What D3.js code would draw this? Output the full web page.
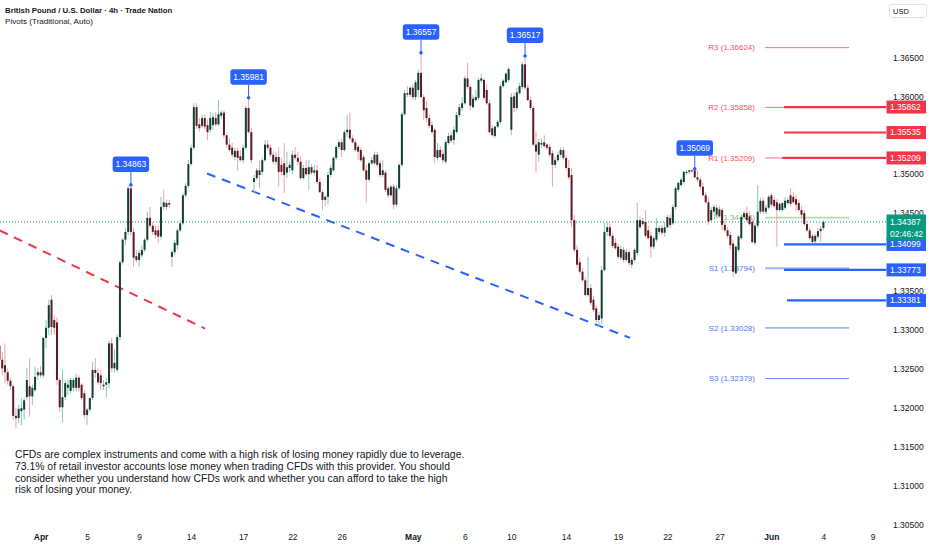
<!DOCTYPE html>
<html><head><meta charset="utf-8">
<script src="https://cdn.jsdelivr.net/npm/d3@7"></script>
<style>html,body{margin:0;padding:0;background:#fff;}svg{display:block;}</style>
</head><body><svg id="c" width="932" height="550"></svg>
<script>
// [open, high, low, close] per 4h candle, oldest first
const ohlc = [
[1.3280,1.3283,1.3259,1.3262],[1.3262,1.3272,1.3242,1.3251],[1.3255,1.3283,1.3232,1.3246],[1.3246,1.3251,1.3230,1.3235],
[1.3235,1.3239,1.3223,1.3228],[1.3228,1.3231,1.3185,1.3190],[1.3190,1.3200,1.3174,1.3187],[1.3187,1.3204,1.3181,1.3199],
[1.3196,1.3213,1.3178,1.3200],[1.3198,1.3214,1.3185,1.3210],[1.3214,1.3251,1.3210,1.3236],[1.3228,1.3264,1.3189,1.3215],
[1.3215,1.3230,1.3204,1.3226],[1.3223,1.3253,1.3221,1.3240],[1.3242,1.3251,1.3236,1.3246],[1.3246,1.3254,1.3239,1.3242],
[1.3242,1.3291,1.3239,1.3290],[1.3290,1.3313,1.3277,1.3303],[1.3303,1.3339,1.3294,1.3332],[1.3339,1.3345,1.3294,1.3304],
[1.3313,1.3319,1.3294,1.3303],[1.3310,1.3316,1.3230,1.3236],[1.3236,1.3239,1.3195,1.3201],[1.3201,1.3249,1.3182,1.3214],
[1.3214,1.3236,1.3210,1.3232],[1.3226,1.3236,1.3217,1.3230],[1.3222,1.3239,1.3219,1.3236],[1.3226,1.3239,1.3221,1.3236],
[1.3226,1.3244,1.3221,1.3239],[1.3239,1.3242,1.3221,1.3226],[1.3230,1.3232,1.3210,1.3213],[1.3219,1.3223,1.3187,1.3191],
[1.3191,1.3200,1.3178,1.3198],[1.3198,1.3213,1.3195,1.3213],[1.3213,1.3259,1.3210,1.3249],[1.3249,1.3264,1.3239,1.3245],
[1.3245,1.3251,1.3230,1.3233],[1.3242,1.3249,1.3223,1.3232],[1.3228,1.3236,1.3223,1.3230],[1.3230,1.3239,1.3213,1.3233],
[1.3232,1.3287,1.3226,1.3283],[1.3283,1.3290,1.3246,1.3251],[1.3251,1.3275,1.3246,1.3258],[1.3249,1.3294,1.3246,1.3291],
[1.3291,1.3390,1.3287,1.3387],[1.3387,1.3418,1.3384,1.3416],[1.3416,1.3431,1.3409,1.3426],[1.3426,1.3485,1.3422,1.3482],
[1.3482,1.34863,1.3422,1.3426],[1.3426,1.3431,1.3381,1.3393],[1.3395,1.3403,1.3387,1.3390],[1.3390,1.3403,1.3381,1.3399],
[1.3396,1.3409,1.3393,1.3403],[1.3403,1.3418,1.3400,1.3416],[1.3416,1.3452,1.3413,1.3444],[1.3444,1.3458,1.3431,1.3434],
[1.3434,1.3439,1.3422,1.3426],[1.3428,1.3434,1.3418,1.3422],[1.3428,1.3434,1.3412,1.3420],[1.3420,1.3471,1.3416,1.3458],
[1.3464,1.3480,1.3454,1.3458],[1.3458,1.3467,1.3454,1.3463],[1.3463,1.3467,1.3457,1.3461],[1.3394,1.3403,1.3381,1.3400],
[1.3400,1.3416,1.3396,1.3412],[1.3409,1.3431,1.3403,1.3428],[1.3428,1.3441,1.3426,1.3437],[1.3437,1.3476,1.3435,1.3473],
[1.3473,1.3489,1.3471,1.3485],[1.3485,1.3518,1.3482,1.3513],[1.3513,1.3538,1.3511,1.3534],[1.3534,1.3591,1.3531,1.3586],
[1.3586,1.3591,1.3558,1.3562],[1.3564,1.3572,1.3555,1.3559],[1.3562,1.3576,1.3559,1.3572],[1.3572,1.3577,1.3557,1.3561],
[1.3563,1.3570,1.3544,1.3554],[1.3557,1.3580,1.3553,1.3572],[1.3563,1.3579,1.3557,1.3573],[1.3572,1.3580,1.3561,1.3564],
[1.3564,1.3595,1.3562,1.3577],[1.3575,1.3582,1.3571,1.3579],[1.3579,1.3582,1.3546,1.3550],[1.3550,1.3553,1.3534,1.3538],
[1.3538,1.3546,1.3529,1.3531],[1.3534,1.3540,1.3522,1.3525],[1.3522,1.3534,1.3518,1.3530],[1.3530,1.3534,1.3505,1.3521],
[1.3523,1.3531,1.3516,1.3518],[1.3518,1.3538,1.3514,1.3534],[1.3534,1.3588,1.3531,1.3585],[1.3585,1.35981,1.3552,1.3554],
[1.3554,1.3559,1.3514,1.3518],[1.3490,1.3499,1.3476,1.3495],[1.3495,1.3508,1.3493,1.3505],[1.3505,1.3518,1.3482,1.3499],
[1.3503,1.3521,1.3499,1.3518],[1.3518,1.3544,1.3516,1.3538],[1.3538,1.3544,1.3531,1.3534],[1.3534,1.3538,1.3522,1.3525],
[1.3525,1.3529,1.3513,1.3516],[1.3516,1.3529,1.3512,1.3522],[1.3522,1.3534,1.3484,1.3503],[1.3512,1.3521,1.3499,1.3503],
[1.3514,1.3540,1.3476,1.3499],[1.3502,1.3529,1.3495,1.3509],[1.3508,1.3516,1.3503,1.3512],[1.3505,1.3531,1.3500,1.3525],
[1.3525,1.3535,1.3518,1.3521],[1.3521,1.3529,1.3512,1.3516],[1.3516,1.3523,1.3493,1.3495],[1.3495,1.3512,1.3493,1.3508],
[1.3508,1.3518,1.3498,1.3500],[1.3500,1.3518,1.3480,1.3509],[1.3509,1.3513,1.3499,1.3502],[1.3502,1.3512,1.3498,1.3505],
[1.3505,1.3512,1.3487,1.3490],[1.3490,1.3495,1.3476,1.3477],[1.3477,1.3480,1.3454,1.3467],[1.3467,1.3473,1.3459,1.3471],
[1.3471,1.3503,1.3461,1.3499],[1.3499,1.3512,1.3496,1.3508],[1.3505,1.3523,1.3503,1.3521],[1.3521,1.3538,1.3518,1.3535],
[1.3535,1.3544,1.3532,1.3541],[1.3541,1.3546,1.3522,1.3531],[1.3531,1.3557,1.3529,1.3554],[1.3554,1.3576,1.3548,1.3557],
[1.3557,1.3579,1.3544,1.3546],[1.3546,1.3550,1.3540,1.3541],[1.3541,1.3544,1.3529,1.3531],[1.3535,1.3538,1.3518,1.3529],
[1.3531,1.3534,1.3516,1.3518],[1.3522,1.3525,1.3503,1.3505],[1.3505,1.3512,1.3464,1.3493],[1.3493,1.3516,1.3490,1.3514],
[1.3514,1.3522,1.3512,1.3518],[1.3514,1.3529,1.3512,1.3525],[1.3525,1.3529,1.3509,1.3512],[1.3514,1.3518,1.3496,1.3499],
[1.3499,1.3518,1.3496,1.3505],[1.3502,1.3505,1.3477,1.3480],[1.3482,1.3485,1.3470,1.3473],[1.3473,1.3486,1.3471,1.3484],
[1.3484,1.3487,1.3455,1.3461],[1.3461,1.3486,1.3458,1.3482],[1.3482,1.3514,1.3480,1.3512],[1.3512,1.3580,1.3509,1.3577],
[1.3577,1.3608,1.3575,1.3604],[1.3604,1.3613,1.3599,1.3602],[1.3602,1.3613,1.3599,1.3611],[1.3611,1.3616,1.3595,1.3599],
[1.3599,1.3621,1.3595,1.3618],[1.3608,1.3634,1.3599,1.3630],[1.3630,1.36557,1.3598,1.3599],[1.3599,1.3602,1.3570,1.3582],
[1.3585,1.3594,1.3567,1.3572],[1.3572,1.3577,1.3559,1.3562],[1.3563,1.3568,1.3552,1.3554],[1.3557,1.3559,1.3514,1.3522],
[1.3521,1.3540,1.3518,1.3531],[1.3531,1.3536,1.3521,1.3522],[1.3526,1.3531,1.3514,1.3518],[1.3516,1.3544,1.3513,1.3541],
[1.3540,1.3553,1.3538,1.3549],[1.3550,1.3555,1.3540,1.3543],[1.3544,1.3562,1.3538,1.3557],[1.3554,1.3580,1.3552,1.3576],
[1.3576,1.3590,1.3573,1.3586],[1.3585,1.3599,1.3581,1.3591],[1.3591,1.3626,1.3589,1.3623],[1.3623,1.3643,1.3609,1.3612],
[1.3612,1.3615,1.3582,1.3588],[1.3586,1.3602,1.3584,1.3597],[1.3595,1.3608,1.3593,1.3599],[1.3598,1.3623,1.3595,1.3621],
[1.3620,1.3629,1.3617,1.3623],[1.3621,1.3623,1.3595,1.3598],[1.3608,1.3616,1.3589,1.3591],[1.3591,1.3595,1.3552,1.3554],
[1.3559,1.3563,1.3548,1.3550],[1.3549,1.3562,1.3546,1.3561],[1.3561,1.3570,1.3559,1.3567],[1.3567,1.3616,1.3564,1.3613],
[1.3613,1.3622,1.3611,1.3620],[1.3618,1.3631,1.3616,1.3629],[1.3621,1.3638,1.3618,1.3635],[1.3557,1.3604,1.3550,1.3599],
[1.3600,1.3605,1.3580,1.3585],[1.3585,1.3611,1.3582,1.3605],[1.3604,1.3617,1.3602,1.3613],[1.3612,1.3644,1.3609,1.3641],
[1.3641,1.36517,1.3608,1.3611],[1.3611,1.3615,1.3594,1.3595],[1.3595,1.3599,1.3582,1.3585],[1.3585,1.3588,1.3536,1.3538],
[1.3538,1.3555,1.3502,1.3529],[1.3525,1.3546,1.3516,1.3541],[1.3538,1.3546,1.3534,1.3540],[1.3541,1.3550,1.3534,1.3536],
[1.3538,1.3540,1.3531,1.3534],[1.3535,1.3539,1.3522,1.3525],[1.3527,1.3531,1.3484,1.3512],[1.3512,1.3522,1.3508,1.3518],
[1.3518,1.3529,1.3516,1.3525],[1.3525,1.3534,1.3522,1.3531],[1.3531,1.3535,1.3518,1.3521],[1.3521,1.3525,1.3505,1.3508],
[1.3508,1.3518,1.3493,1.3496],[1.3499,1.3508,1.3432,1.3441],[1.3441,1.3448,1.3400,1.3403],[1.3403,1.3409,1.3380,1.3384],
[1.3387,1.3393,1.3372,1.3375],[1.3375,1.3380,1.3362,1.3364],[1.3364,1.3368,1.3343,1.3345],[1.3345,1.3394,1.3343,1.3354],
[1.3354,1.3359,1.3332,1.3335],[1.3339,1.3344,1.3323,1.3326],[1.3328,1.3332,1.3310,1.3313],[1.3313,1.3323,1.3304,1.3319],
[1.3315,1.3382,1.3307,1.3377],[1.3377,1.3437,1.3375,1.3426],[1.3426,1.3439,1.3421,1.3432],[1.3432,1.3437,1.3418,1.3421],
[1.3421,1.3425,1.3405,1.3408],[1.3412,1.3418,1.3403,1.3405],[1.3407,1.3411,1.3391,1.3394],[1.3393,1.3408,1.3390,1.3404],
[1.3403,1.3407,1.3387,1.3390],[1.3390,1.3404,1.3387,1.3400],[1.3400,1.3403,1.3382,1.3386],[1.3384,1.3393,1.3380,1.3390],
[1.3390,1.3405,1.3387,1.3403],[1.3399,1.3463,1.3396,1.3441],[1.3441,1.3446,1.3430,1.3432],[1.3436,1.3444,1.3434,1.3440],
[1.3439,1.3454,1.3418,1.3421],[1.3428,1.3434,1.3416,1.3418],[1.3421,1.3426,1.3393,1.3407],[1.3407,1.3421,1.3404,1.3418],
[1.3416,1.3444,1.3413,1.3431],[1.3426,1.3434,1.3423,1.3431],[1.3431,1.3435,1.3422,1.3425],[1.3425,1.3439,1.3420,1.3432],
[1.3432,1.3448,1.3430,1.3445],[1.3444,1.3448,1.3431,1.3435],[1.3437,1.3461,1.3435,1.3458],[1.3458,1.3485,1.3455,1.3482],
[1.3480,1.3491,1.3477,1.3489],[1.3486,1.3495,1.3484,1.3493],[1.3490,1.3504,1.3487,1.3503],[1.3502,1.3505,1.3499,1.3503],
[1.3503,1.3506,1.3500,1.3505],[1.3505,1.3506,1.3502,1.3504],[1.3505,1.35069,1.3495,1.3496],[1.3496,1.3505,1.3490,1.3493],
[1.3493,1.3496,1.3480,1.3484],[1.3484,1.3489,1.3472,1.3473],[1.3473,1.3477,1.3463,1.3464],[1.3464,1.3471,1.3435,1.3439],
[1.3441,1.3458,1.3439,1.3454],[1.3452,1.3461,1.3448,1.3458],[1.3457,1.3461,1.3445,1.3448],[1.3446,1.3459,1.3444,1.3455],
[1.3454,1.3457,1.3428,1.3435],[1.3435,1.3441,1.3425,1.3428],[1.3428,1.3432,1.3418,1.3421],[1.3422,1.3426,1.3403,1.3409],
[1.3411,1.3416,1.3368,1.3375],[1.3373,1.3409,1.3371,1.3407],[1.3403,1.3422,1.3400,1.3420],[1.3418,1.3448,1.3416,1.3445],
[1.3445,1.3453,1.3443,1.3450],[1.3450,1.3458,1.3439,1.3441],[1.3446,1.3452,1.3434,1.3436],[1.3439,1.3443,1.3411,1.3413],
[1.3412,1.3437,1.3409,1.3434],[1.3434,1.3486,1.3431,1.3452],[1.3452,1.3470,1.3449,1.3466],[1.3466,1.3470,1.3449,1.3452],
[1.3452,1.3461,1.3449,1.3457],[1.3457,1.3473,1.3455,1.3471],[1.3473,1.3476,1.3458,1.3461],[1.3467,1.3471,1.3457,1.3459],
[1.3464,1.3468,1.3407,1.3454],[1.3454,1.3464,1.3452,1.3462],[1.3454,1.3464,1.3452,1.3463],[1.3457,1.3471,1.3454,1.3466],
[1.3463,1.3470,1.3461,1.3467],[1.3473,1.3482,1.3459,1.3462],[1.3471,1.3477,1.3462,1.3464],[1.3468,1.3473,1.3452,1.3461],
[1.3463,1.3467,1.3452,1.3454],[1.3454,1.3459,1.3444,1.3448],[1.3450,1.3454,1.3434,1.3436],[1.3436,1.3440,1.3426,1.3428],
[1.3428,1.3431,1.3416,1.3418],[1.3421,1.3423,1.3411,1.3413],[1.3414,1.3423,1.3411,1.3421],[1.3420,1.3431,1.3417,1.3427],
[1.3430,1.3434,1.3413,1.3427],[1.3431,1.3441,1.3428,1.34387]
];
const dateLabels = ["Apr","5","9","14","17","22","26","May","6","10","14","19","22","27","Jun","4","9"];
const dateIndex  = [15,32,51,70,89,107,125,151,170,187,207,226,244,263,282,301,319];
const monthNames = ["Apr","May","Jun"];
// 1.35500 and 1.34000 sit fully under the level tags, so they are not listed
const priceTicks = [1.365,1.360,1.350,1.345,1.335,1.330,1.325,1.320,1.315,1.310,1.305];
const pivotNames  = ["R3","R2","R1","P","S1","S2","S3"];
const pivotValues = [1.36624,1.35858,1.35209,1.34443,1.33794,1.33028,1.32379];
const levelValues = [1.35862,1.35535,1.35209,1.34099,1.33773,1.33381];
const levelSide   = ["res","res","res","sup","sup","sup"];
const levelStart  = [286.6,286.6,286.0,286.6,286.6,287.7];
const calloutIndex  = [48,91,154,192,254];
const calloutValues = [1.34863,1.35981,1.36557,1.36517,1.35069];
const redTrend  = [[0,1.3428],[75.1,1.3302]];
const blueTrend = [[75.8,1.3501],[230.4,1.3290]];
const lastPrice = 1.34387;
const countdown = "02:46:42";
const titleText = "British Pound / U.S. Dollar · 4h · Trade Nation";
const subText = "Pivots (Traditional, Auto)";
const disclaimer = [
 "CFDs are complex instruments and come with a high risk of losing money rapidly due to leverage.",
 "73.1% of retail investor accounts lose money when trading CFDs with this provider. You should",
 "consider whether you understand how CFDs work and whether you can afford to take the high",
 "risk of losing your money."
];

const W = 932, H = 550, paneRight = 886.5, paneBottom = 530;
const FONT = '"Liberation Sans", Arial, sans-serif';
const INK = "#131722", RED = "#f23645", BLUE = "#2962ff", GREEN = "#089981";
const svg = d3.select("#c").attr("font-family", FONT);
svg.append("rect").attr("width", W).attr("height", H).attr("fill", "#fff");

const x = d3.scaleLinear().domain([0, 301]).range([-0.5, 823.4]);
const y = d3.scaleLinear().domain([1.305, 1.365]).range([525, 57.3]);

svg.append("defs").append("clipPath").attr("id", "pane")
  .append("rect").attr("x", 0).attr("y", 0).attr("width", paneRight).attr("height", paneBottom);
const pane = svg.append("g").attr("clip-path", "url(#pane)");

// pivot levels
const pivText = n => n[0] === "R" ? "#f7525f" : n[0] === "S" ? "#4f78f5" : "#79b978";
const pivLine = n => n[0] === "R" ? "#f7707c" : n[0] === "S" ? "#a3b5f7" : "#b4d9ae";
pivotValues.forEach((v, i) => {
  const n = pivotNames[i];
  pane.append("line").attr("x1", x(279.7)).attr("x2", x(310.4)).attr("y1", y(v)).attr("y2", y(v))
    .attr("stroke", n === "S3" ? "#6d8ef7" : pivLine(n)).attr("stroke-width", (n === "S3" || n[0] === "R") ? 1 : 1.8);
  pane.append("text").attr("x", x(276)).attr("y", y(v)).attr("dy", "0.35em").attr("text-anchor", "end")
    .attr("font-size", 8).attr("fill", pivText(n)).text(`${n} (${v.toFixed(5)})`);
});

// trend lines
const tl = d3.line().x(d => x(d[0])).y(d => y(d[1]));
pane.append("path").attr("d", tl(redTrend)).attr("stroke", RED).attr("stroke-width", 2).attr("stroke-dasharray", "9,7").attr("fill", "none");
pane.append("path").attr("d", tl(blueTrend)).attr("stroke", BLUE).attr("stroke-width", 2).attr("stroke-dasharray", "9,7").attr("fill", "none");

// last price dotted line
pane.append("line").attr("x1", 0).attr("x2", paneRight).attr("y1", y(lastPrice)).attr("y2", y(lastPrice))
  .attr("stroke", GREEN).attr("stroke-width", 1).attr("stroke-dasharray", "1,2");

// candles
const upBody = "#133f32", upWick = "#84ccb9", dnBody = "#5c1c25", dnWick = "#f29fae";
const cg = pane.append("g");
cg.selectAll("line.w").data(ohlc).join("line").attr("class", "w")
  .attr("x1", (d, i) => x(i)).attr("x2", (d, i) => x(i))
  .attr("y1", d => y(d[1])).attr("y2", d => y(d[2]))
  .attr("stroke", d => d[3] >= d[0] ? upWick : dnWick).attr("stroke-width", 1);
cg.selectAll("rect.b").data(ohlc).join("rect").attr("class", "b")
  .attr("x", (d, i) => x(i) - 1).attr("width", 2)
  .attr("y", d => y(Math.max(d[0], d[3])))
  .attr("height", d => Math.max(1, Math.abs(y(d[0]) - y(d[3]))))
  .attr("fill", d => d[3] >= d[0] ? upBody : dnBody);

// horizontal levels
levelValues.forEach((v, i) => {
  pane.append("line").attr("x1", x(levelStart[i])).attr("x2", paneRight).attr("y1", y(v)).attr("y2", y(v))
    .attr("stroke", levelSide[i] === "res" ? RED : BLUE).attr("stroke-width", 2.2);
});

// callouts
const co = svg.append("g");
calloutIndex.forEach((k, i) => {
  const v = calloutValues[i], cx = x(k), cy = y(v);
  const bw = 36.5, bh = 15.5, by = cy - 13 - bh;
  co.append("line").attr("x1", cx).attr("x2", cx).attr("y1", by + bh).attr("y2", cy).attr("stroke", BLUE).attr("stroke-width", 1);
  co.append("circle").attr("cx", cx).attr("cy", cy).attr("r", 1.8).attr("fill", BLUE);
  co.append("rect").attr("x", cx - bw / 2).attr("y", by).attr("width", bw).attr("height", bh).attr("rx", 3).attr("fill", BLUE);
  co.append("text").attr("x", cx).attr("y", by + bh / 2).attr("dy", "0.35em").attr("text-anchor", "middle")
    .attr("font-size", 8.5).attr("fill", "#fff").text(v.toFixed(5));
});

// price axis
const yAxis = d3.axisRight(y).tickValues(priceTicks).tickFormat(d3.format(".5f")).tickSize(0).tickPadding(0);
const ya = svg.append("g").attr("transform", "translate(893,0)").call(yAxis);
ya.select(".domain").remove();
ya.selectAll("text").attr("font-size", 8.5).attr("fill", INK).attr("font-family", FONT);

// axis tags
levelValues.forEach((v, i) => {
  const c = levelSide[i] === "res" ? RED : BLUE;
  svg.append("rect").attr("x", 886.5).attr("y", y(v) - 6.5).attr("width", 39.5).attr("height", 13).attr("fill", c);
  svg.append("text").attr("x", 890).attr("y", y(v)).attr("dy", "0.35em").attr("font-size", 8.5).attr("fill", "#fff").text(v.toFixed(5));
});
svg.append("rect").attr("x", 886.5).attr("y", y(lastPrice) - 7.5).attr("width", 39.5).attr("height", 26).attr("fill", GREEN);
svg.append("text").attr("x", 890).attr("y", y(lastPrice)).attr("dy", "0.35em").attr("font-size", 8.5).attr("fill", "#fff").text(lastPrice.toFixed(5));
svg.append("text").attr("x", 890).attr("y", y(lastPrice) + 12).attr("dy", "0.35em").attr("font-size", 8.5).attr("fill", "#fff").text(countdown);

// currency box
svg.append("rect").attr("x", 889.5).attr("y", 4.5).attr("width", 37).attr("height", 13).attr("rx", 2).attr("fill", "#fff").attr("stroke", "#e0e3eb");
svg.append("text").attr("x", 893).attr("y", 11).attr("dy", "0.35em").attr("font-size", 7.5).attr("fill", INK).text("USD");

// time axis
const xAxis = d3.axisBottom(x).tickValues(dateIndex).tickFormat((d, i) => dateLabels[i]).tickSize(0).tickPadding(0);
const xa = svg.append("g").attr("transform", "translate(0,534)").call(xAxis);
xa.select(".domain").remove();
xa.selectAll("text").attr("font-size", 8.5).attr("fill", INK).attr("font-family", FONT)
  .attr("font-weight", (d, i) => monthNames.includes(dateLabels[i]) ? "bold" : "normal");

// header
svg.append("text").attr("x", 5).attr("y", 13).attr("font-size", 7.8).attr("font-weight", "bold").attr("fill", INK).text(titleText);
svg.append("text").attr("x", 5).attr("y", 24).attr("font-size", 8.1).attr("fill", INK).text(subText);

// disclaimer
svg.append("g").selectAll("text").data(disclaimer).join("text")
  .attr("x", 15).attr("y", (d, i) => 458 + i * 11.8).attr("font-size", 10.4).attr("fill", INK).text(d => d);
</script></body></html>
